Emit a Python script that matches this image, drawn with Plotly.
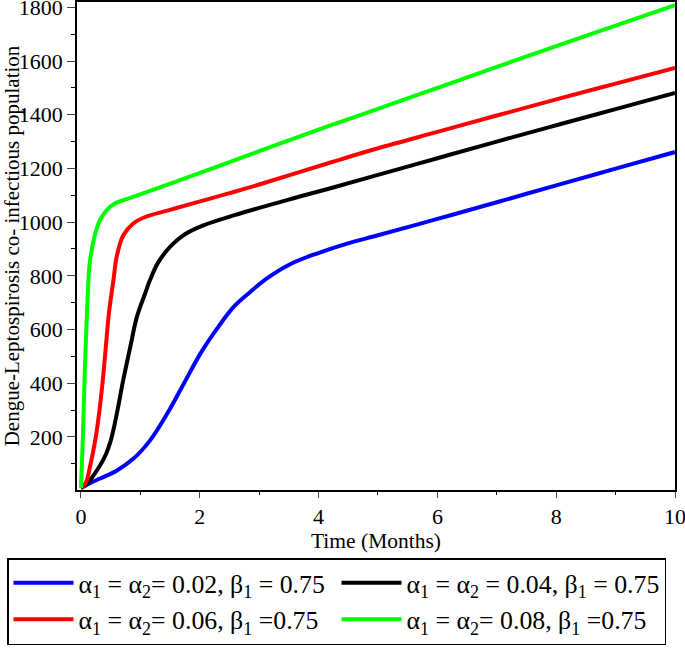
import plotly.graph_objects as go

# Data
blue_x = [0, 0.1, 0.32, 0.60, 0.88, 1.16, 1.45, 1.73, 2.01, 2.29, 2.57, 2.85, 3.13, 3.52, 3.97, 4.48, 5, 6, 7, 8, 9, 10]
blue_y = [10, 22, 45, 74, 118, 186, 286, 398, 510, 603, 684, 740, 790, 843, 883, 920, 951, 1012, 1074, 1137, 1199, 1261]

black_x = [0, 0.1, 0.32, 0.42, 0.50, 0.56, 0.62, 0.71, 0.83, 0.94, 1.08, 1.16, 1.30, 1.53, 1.75, 2.06, 2.6, 3.0, 3.58, 4.2, 5, 6, 7, 8, 9, 10]
black_y = [10, 25, 93, 135, 185, 240, 305, 410, 535, 646, 734, 783, 850, 915, 955, 988, 1027, 1053, 1089, 1126, 1176, 1238, 1300, 1361, 1421, 1481]

red_x = [0, 0.08, 0.15, 0.25, 0.32, 0.38, 0.42, 0.47, 0.55, 0.60, 0.71, 0.88, 1.08, 1.47, 1.87, 2.5, 3.0, 4.2, 5, 6, 7, 8, 9, 10]
red_y = [10, 28, 87, 200, 315, 440, 540, 660, 790, 870, 950, 995, 1019, 1044, 1069, 1108, 1140, 1222, 1275, 1336, 1397, 1457, 1516, 1574]

green_x = [0, 0.034, 0.067, 0.11, 0.14, 0.18, 0.24, 0.32, 0.43, 0.57, 0.85, 1.5, 2.2, 3.02, 4.2, 5, 6, 7, 8, 9, 10]
green_y = [10, 211, 460, 709, 833, 895, 957, 1007, 1044, 1069, 1092, 1143, 1199, 1266, 1360, 1422, 1500, 1578, 1656, 1732, 1808]

labels = [
    "α<sub>1</sub> = α<sub>2</sub>= 0.02, β<sub>1</sub> = 0.75",
    "α<sub>1</sub> = α<sub>2</sub> = 0.04, β<sub>1</sub> = 0.75",
    "α<sub>1</sub> = α<sub>2</sub>= 0.06, β<sub>1</sub> =0.75",
    "α<sub>1</sub> = α<sub>2</sub>= 0.08, β<sub>1</sub> =0.75",
]
x_ticks = [0, 2, 4, 6, 8, 10]
y_ticks = [200, 400, 600, 800, 1000, 1200, 1400, 1600, 1800]

series = [
    (blue_x, blue_y, "#0000FF", labels[0]),
    (black_x, black_y, "#000000", labels[1]),
    (red_x, red_y, "#FF0000", labels[2]),
    (green_x, green_y, "#00FF00", labels[3]),
]

fig = go.Figure()
for xs, ys, col, name in series:
    fig.add_trace(go.Scatter(x=xs, y=ys, mode="lines", name=name,
                             line=dict(color=col, width=4, shape="spline", smoothing=1.0)))

font = "Liberation Serif"
L, R, T, B = 77, 10, 2, 160
plot_w = 685 - L - R
plot_h = 650 - T - B
fig.update_layout(
    width=685, height=650,
    margin=dict(l=L, r=R, t=T, b=B, autoexpand=False),
    paper_bgcolor="white", plot_bgcolor="white",
    font=dict(family=font, size=21, color="black"),
    showlegend=True,
    legend=dict(
        orientation="h",
        x=(7 - L) / plot_w, y=(T + plot_h - 558) / plot_h, xanchor="left", yanchor="top",
        entrywidth=253, entrywidthmode="pixels", itemwidth=60,
        bordercolor="black", borderwidth=1.5,
        font=dict(family=font, size=25.8, color="black"),
    ),
    xaxis=dict(
        range=[-0.067, 10], tickvals=x_ticks, ticks="outside", ticklen=6, tickwidth=1,
        showline=True, linecolor="black", linewidth=1.5, mirror=True, showgrid=False, zeroline=False,
        minor=dict(dtick=1, tick0=0, ticks="outside", ticklen=3, tickcolor="black"),
        title=dict(text="Time (Months)", standoff=0, font=dict(size=21.5)),
        tickfont=dict(size=22), automargin=False, ticklabeloverflow="allow",
    ),
    yaxis=dict(
        range=[2, 1820], tickvals=y_ticks, ticks="outside", ticklen=8, tickwidth=1,
        showline=True, linecolor="black", linewidth=1.5, mirror=True, showgrid=False, zeroline=False,
        minor=dict(dtick=100, tick0=0, ticks="outside", ticklen=4, tickcolor="black"),
        title=dict(text="Dengue-Leptospirosis co- infectious population", standoff=2, font=dict(size=21)),
        tickfont=dict(size=22), automargin=False, ticklabeloverflow="allow",
    ),
)

fig.write_html("out.html", config={"displayModeBar": False},
               post_script="document.body.style.margin='0';")
